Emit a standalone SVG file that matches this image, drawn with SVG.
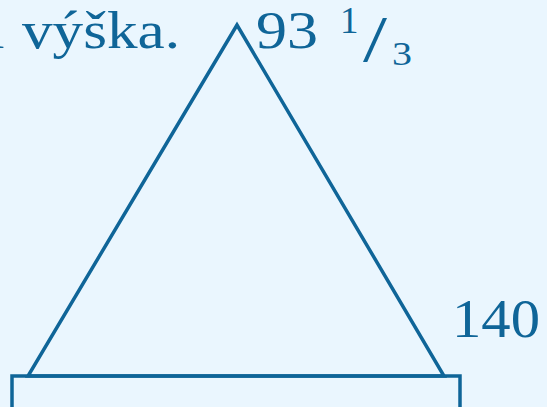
<svg xmlns="http://www.w3.org/2000/svg" width="547" height="407" viewBox="0 0 547 407">
<style>
.t{font-family:"Liberation Serif","Times New Roman",serif;fill:#0F6598}
.s{fill:none;stroke:#0F6598;stroke-width:3.5}
</style>
<rect width="547" height="407" fill="#EAF6FE"/>
<g id="label-top-left"><text class="t" y="48" font-size="52"><tspan x="-10">l</tspan><tspan x="22" textLength="158" lengthAdjust="spacingAndGlyphs">výška.</tspan></text></g>
<g id="label-apex"><text class="t" x="256" y="48" font-size="52" textLength="62" lengthAdjust="spacingAndGlyphs">93</text>
<text class="t" x="340" y="33" font-size="37">1</text>
<text class="t" x="363" y="61" font-size="66" textLength="24" lengthAdjust="spacingAndGlyphs">/</text>
<text class="t" x="392" y="65" font-size="34" textLength="20" lengthAdjust="spacingAndGlyphs">3</text></g>
<g id="label-side"><text class="t" x="452" y="337" font-size="54" textLength="88" lengthAdjust="spacingAndGlyphs">140</text></g>
<g id="triangle"><polygon class="s" points="237,25 28,376 444,376"/></g>
<g id="base"><rect class="s" x="12" y="376" width="448" height="40"/></g>
</svg>
